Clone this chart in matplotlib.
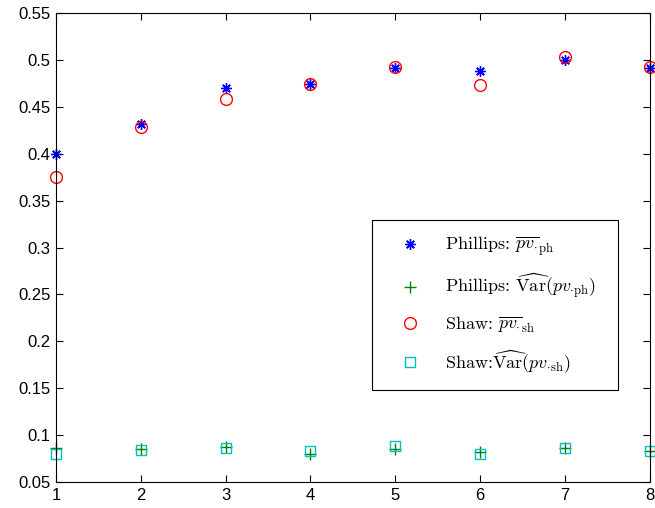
import matplotlib
matplotlib.use("Agg")
import matplotlib.pyplot as plt

plt.rcParams['mathtext.fontset'] = 'cm'
plt.rcParams['font.family'] = ['Liberation Sans', 'DejaVu Sans']

x = [1, 2, 3, 4, 5, 6, 7, 8]
phillips_mean = [0.400, 0.432, 0.470, 0.475, 0.492, 0.488, 0.500, 0.492]
phillips_var = [0.086, 0.085, 0.087, 0.080, 0.085, 0.082, 0.086, 0.083]
shaw_mean = [0.375, 0.429, 0.458, 0.475, 0.493, 0.473, 0.503, 0.493]
shaw_var = [0.080, 0.084, 0.086, 0.083, 0.088, 0.080, 0.086, 0.083]

labels = [
    r'Phillips: $\overline{pv_{\cdot}}_{\rm ph}$',
    r'Phillips: $\widehat{\rm Var}(pv_{\cdot{\rm ph}})$',
    r'Shaw: $\overline{pv_{\cdot}}_{\rm sh}$',
    r'Shaw:$\widehat{\rm Var}(pv_{\cdot{\rm sh}})$',
]

fig = plt.figure(figsize=(6.55, 5.08), dpi=100)
ax = fig.add_axes([0.0855, 0.0512, 0.9065, 0.9228])

ax.plot(x, phillips_mean, linestyle='none', marker=(8, 2, 0), markersize=7.5,
        markeredgewidth=1.0, color='#0000ff', label=labels[0], clip_on=False)
ax.plot(x, phillips_var, linestyle='none', marker='+', markersize=9,
        markeredgewidth=1.0, color='#008000', label=labels[1], clip_on=False)
ax.plot(x, shaw_mean, linestyle='none', marker='o', markersize=8.5,
        markerfacecolor='none', markeredgewidth=1.0, color='#ff0000',
        label=labels[2], clip_on=False)
ax.plot(x, shaw_var, linestyle='none', marker='s', markersize=7,
        markerfacecolor='none', markeredgewidth=1.0, color='#00bfbf',
        label=labels[3], clip_on=False)

ax.set_xlim(1, 8)
ax.set_ylim(0.05, 0.55)
ax.set_xticks(x)
ax.set_xticklabels([str(v) for v in x])
yt = [0.05, 0.1, 0.15, 0.2, 0.25, 0.3, 0.35, 0.4, 0.45, 0.5, 0.55]
ax.set_yticks(yt)
ax.set_yticklabels([f'{v:g}' for v in yt])
ax.tick_params(direction='in', top=True, right=True, length=5, width=0.8,
               labelsize=12, pad=4)
for s in ax.spines.values():
    s.set_linewidth(0.8)

leg = ax.legend(loc='upper left', bbox_to_anchor=(0.532, 0.2, 0.414, 0.359),
                mode='expand', borderaxespad=0, fancybox=False, framealpha=1,
                edgecolor='black', labelspacing=0.75, handlelength=2.6,
                handletextpad=0.65, borderpad=0.8,
                prop={'family': 'cmr10', 'size': 13})
leg.get_frame().set_linewidth(0.8)

fig.savefig('out.png', dpi=100)
